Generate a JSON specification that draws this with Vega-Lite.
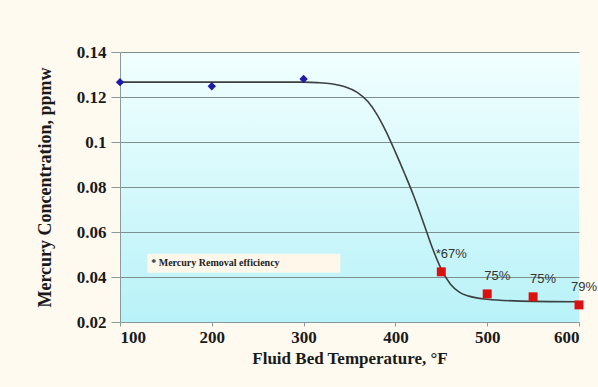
{
  "$schema": "https://vega.github.io/schema/vega-lite/v6.json",
  "width": 459,
  "height": 270,
  "autosize": {"type": "none"},
  "padding": {"left": 120, "top": 52, "right": 19, "bottom": 65},
  "background": "#fffaf0",
  "config": {
    "view": {
      "stroke": null,
      "fill": {"gradient": "linear", "x1": 0, "y1": 0, "x2": 0, "y2": 1,
        "stops": [{"offset": 0, "color": "#f2ffff"}, {"offset": 1, "color": "#b8f2f8"}]}
    },
    "font": "Liberation Serif",
    "axis": {
      "labelFont": "Liberation Serif",
      "labelFontWeight": "bold",
      "labelFontSize": 17,
      "labelColor": "#1a1a1a",
      "titleFont": "Liberation Serif",
      "titleFontWeight": "bold",
      "titleFontSize": 17,
      "titleColor": "#1a1a1a",
      "domainColor": "#8a9a9a",
      "tickColor": "#8a9a9a"
    }
  },
  "datasets": {
    "curve": [
      {"t": 100, "v": 0.1266}, {"t": 200, "v": 0.1266}, {"t": 300, "v": 0.1266},
      {"t": 315, "v": 0.1264}, {"t": 330, "v": 0.1259}, {"t": 345, "v": 0.1246},
      {"t": 358, "v": 0.1222}, {"t": 370, "v": 0.1180}, {"t": 380, "v": 0.1122},
      {"t": 390, "v": 0.1045}, {"t": 400, "v": 0.0955}, {"t": 410, "v": 0.0860},
      {"t": 420, "v": 0.0760}, {"t": 430, "v": 0.0648}, {"t": 440, "v": 0.0532},
      {"t": 450, "v": 0.0435}, {"t": 460, "v": 0.0368}, {"t": 470, "v": 0.0332},
      {"t": 480, "v": 0.0315}, {"t": 500, "v": 0.0301}, {"t": 530, "v": 0.0294},
      {"t": 600, "v": 0.029}
    ],
    "before": [
      {"t": 100, "v": 0.1266}, {"t": 200, "v": 0.1248}, {"t": 300, "v": 0.128}
    ],
    "after": [
      {"t": 450, "v": 0.0423, "label": "*67%"},
      {"t": 500, "v": 0.0325, "label": "75%"},
      {"t": 550, "v": 0.0312, "label": "75%"},
      {"t": 600, "v": 0.0276, "label": "79%"}
    ],
    "note": [{"text": "* Mercury Removal efficiency"}]
  },
  "layer": [
    {
      "data": {"name": "note"},
      "mark": {"type": "rect", "fill": "#fff8ea"},
      "encoding": {
        "x": {"datum": 130, "type": "quantitative",
          "scale": {"domain": [100, 600], "nice": false},
          "axis": {"title": "Fluid Bed Temperature, °F", "values": [100, 200, 300, 400, 500, 600],
            "grid": false, "tickSize": 4, "labelPadding": 3, "titlePadding": 5, "domain": true}},
        "x2": {"datum": 340},
        "y": {"datum": 0.0503, "type": "quantitative",
          "scale": {"domain": [0.02, 0.14], "nice": false, "zero": false},
          "axis": {"title": "Mercury Concentration, ppmw", "values": [0.02, 0.04, 0.06, 0.08, 0.1, 0.12, 0.14],
            "format": "~g", "grid": true, "gridColor": "#7f8f8f", "gridWidth": 1.2,
            "tickSize": 9, "labelPadding": 5, "titlePadding": 22, "titleFontSize": 18}},
        "y2": {"datum": 0.0419}
      }
    },
    {
      "data": {"name": "note"},
      "mark": {"type": "text", "align": "left", "baseline": "middle", "fontSize": 10, "fontWeight": "bold", "color": "#222"},
      "encoding": {
        "x": {"datum": 134, "type": "quantitative"},
        "y": {"datum": 0.0462, "type": "quantitative"},
        "text": {"field": "text"}
      }
    },
    {
      "data": {"name": "curve"},
      "mark": {"type": "line", "color": "#3c4040", "strokeWidth": 1.6, "interpolate": "monotone"},
      "encoding": {
        "x": {"field": "t", "type": "quantitative"},
        "y": {"field": "v", "type": "quantitative"}
      }
    },
    {
      "data": {"name": "before"},
      "mark": {"type": "point", "shape": "diamond", "filled": true, "color": "#1c1ca8", "size": 70, "opacity": 1},
      "encoding": {
        "x": {"field": "t", "type": "quantitative"},
        "y": {"field": "v", "type": "quantitative"}
      }
    },
    {
      "data": {"name": "after"},
      "mark": {"type": "square", "color": "#dd1010", "size": 80, "opacity": 1},
      "encoding": {
        "x": {"field": "t", "type": "quantitative"},
        "y": {"field": "v", "type": "quantitative"}
      }
    },
    {
      "data": {"name": "after"},
      "transform": [{"filter": "datum.t < 600"}],
      "mark": {"type": "text", "align": "center", "baseline": "middle", "dx": 10, "dy": -18, "fontSize": 13, "color": "#333", "font": "Liberation Sans"},
      "encoding": {
        "x": {"field": "t", "type": "quantitative"},
        "y": {"field": "v", "type": "quantitative"},
        "text": {"field": "label"}
      }
    },
    {
      "data": {"name": "after"},
      "transform": [{"filter": "datum.t == 600"}],
      "mark": {"type": "text", "align": "right", "baseline": "middle", "dx": 18, "dy": -18, "fontSize": 13, "color": "#333", "font": "Liberation Sans"},
      "encoding": {
        "x": {"field": "t", "type": "quantitative"},
        "y": {"field": "v", "type": "quantitative"},
        "text": {"field": "label"}
      }
    }
  ]
}
